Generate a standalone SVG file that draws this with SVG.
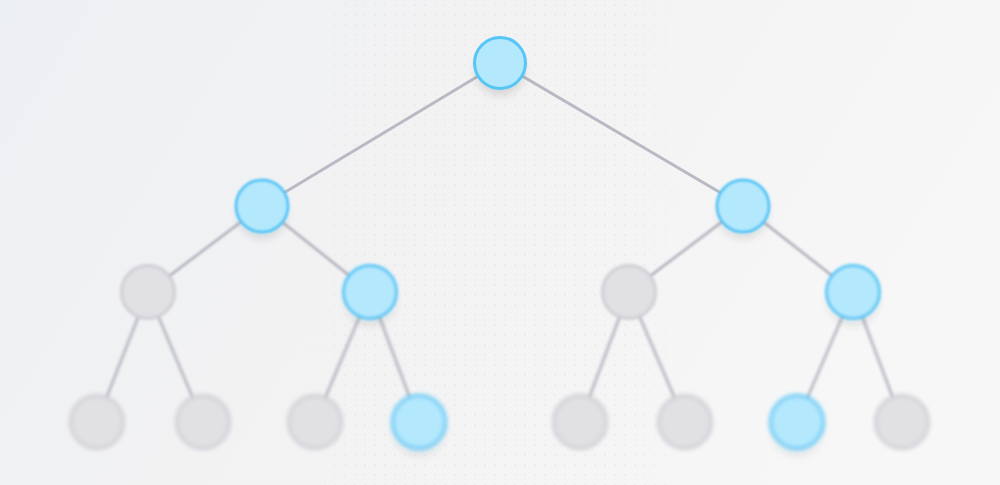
<svg xmlns="http://www.w3.org/2000/svg" width="1000" height="485" viewBox="0 0 1000 485">
<style>
.blue{fill:#b4e8fd;stroke:#55c6f6;stroke-width:3}
.gray{fill:#e1e1e4;stroke:#cdcdd4;stroke-width:3}
.edge{stroke:#b9b9c4;stroke-width:3;fill:none;stroke-linecap:round}
.sh{fill:#000;opacity:0.13;filter:url(#sh)}
.l0{filter:url(#b0)}
.l1{filter:url(#b1)}
.l2{filter:url(#b2)}
.l3{filter:url(#b3)}
</style>
<defs>
<linearGradient id="bg" x1="0" y1="0" x2="1" y2="0.3">
<stop offset="0" stop-color="#edf0f3"/>
<stop offset="0.45" stop-color="#f2f2f3"/>
<stop offset="1" stop-color="#f7f7f7"/>
</linearGradient>
<pattern id="dots" width="10" height="10" patternUnits="userSpaceOnUse">
<circle cx="5" cy="5" r="0.9" fill="#cfcfd6"/>
</pattern>
<linearGradient id="fadeX" x1="0" y1="0" x2="1" y2="0">
<stop offset="0" stop-color="#fff" stop-opacity="0"/>
<stop offset="0.15" stop-color="#fff" stop-opacity="1"/>
<stop offset="0.85" stop-color="#fff" stop-opacity="1"/>
<stop offset="1" stop-color="#fff" stop-opacity="0"/>
</linearGradient>
<mask id="dmask"><rect x="295" y="0" width="400" height="485" fill="url(#fadeX)"/></mask>
<filter id="b0" x="-50%" y="-50%" width="200%" height="200%"><feGaussianBlur stdDeviation="0.5"/></filter>
<filter id="b1" x="-50%" y="-50%" width="200%" height="200%"><feGaussianBlur stdDeviation="1.1"/></filter>
<filter id="b2" x="-50%" y="-50%" width="200%" height="200%"><feGaussianBlur stdDeviation="1.8"/></filter>
<filter id="b3" x="-50%" y="-50%" width="200%" height="200%"><feGaussianBlur stdDeviation="2.3"/></filter>
<filter id="sh" x="-50%" y="-50%" width="200%" height="200%"><feGaussianBlur stdDeviation="5"/></filter>
</defs>
<rect width="1000" height="485" fill="url(#bg)"/>
<rect x="295" y="0" width="400" height="485" fill="url(#dots)" opacity="0.3" mask="url(#dmask)"/>
<g id="connectors">
<g class="l0">
<line class="edge" x1="500" y1="63" x2="262" y2="206"/>
<line class="edge" x1="500" y1="63" x2="743" y2="206"/>
</g>
<g class="l1">
<line class="edge" x1="262" y1="206" x2="148" y2="292"/>
<line class="edge" x1="262" y1="206" x2="370" y2="292"/>
<line class="edge" x1="743" y1="206" x2="629" y2="292"/>
<line class="edge" x1="743" y1="206" x2="853" y2="292"/>
</g>
<g class="l2">
<line class="edge" x1="148" y1="292" x2="97" y2="422"/>
<line class="edge" x1="148" y1="292" x2="203" y2="422"/>
<line class="edge" x1="370" y1="292" x2="315" y2="422"/>
<line class="edge" x1="370" y1="292" x2="419" y2="422"/>
<line class="edge" x1="629" y1="292" x2="580" y2="422"/>
<line class="edge" x1="629" y1="292" x2="685" y2="422"/>
<line class="edge" x1="853" y1="292" x2="797" y2="422"/>
<line class="edge" x1="853" y1="292" x2="902" y2="422"/>
</g>
</g>
<g id="n_root" class="l0">
<circle class="sh" cx="500" cy="71" r="24"/>
<circle class="blue" cx="500" cy="63" r="25.5"/>
</g>
<g id="n_L" class="l1">
<circle class="sh" cx="262" cy="214" r="24"/>
<circle class="blue" cx="262" cy="206" r="26"/>
</g>
<g id="n_R" class="l1">
<circle class="sh" cx="743" cy="214" r="24"/>
<circle class="blue" cx="743" cy="206" r="26"/>
</g>
<g id="n_LL" class="l2"><circle class="gray" cx="148" cy="292" r="26.5"/></g>
<g id="n_LR" class="l2">
<circle class="sh" cx="370" cy="300" r="24"/>
<circle class="blue" cx="370" cy="292" r="26.5"/>
</g>
<g id="n_RL" class="l2"><circle class="gray" cx="629" cy="292" r="26.5"/></g>
<g id="n_RR" class="l2">
<circle class="sh" cx="853" cy="300" r="24"/>
<circle class="blue" cx="853" cy="292" r="26.5"/>
</g>
<g id="n_LLL" class="l3"><circle class="gray" cx="97" cy="422" r="26.5"/></g>
<g id="n_LLR" class="l3"><circle class="gray" cx="203" cy="422" r="26.5"/></g>
<g id="n_LRL" class="l3"><circle class="gray" cx="315" cy="422" r="26.5"/></g>
<g id="n_LRR" class="l3">
<circle class="sh" cx="419" cy="430" r="24"/>
<circle class="blue" cx="419" cy="422" r="26.5"/>
</g>
<g id="n_RLL" class="l3"><circle class="gray" cx="580" cy="422" r="26.5"/></g>
<g id="n_RLR" class="l3"><circle class="gray" cx="685" cy="422" r="26.5"/></g>
<g id="n_RRL" class="l3">
<circle class="sh" cx="797" cy="430" r="24"/>
<circle class="blue" cx="797" cy="422" r="26.5"/>
</g>
<g id="n_RRR" class="l3"><circle class="gray" cx="902" cy="422" r="26.5"/></g>
</svg>
